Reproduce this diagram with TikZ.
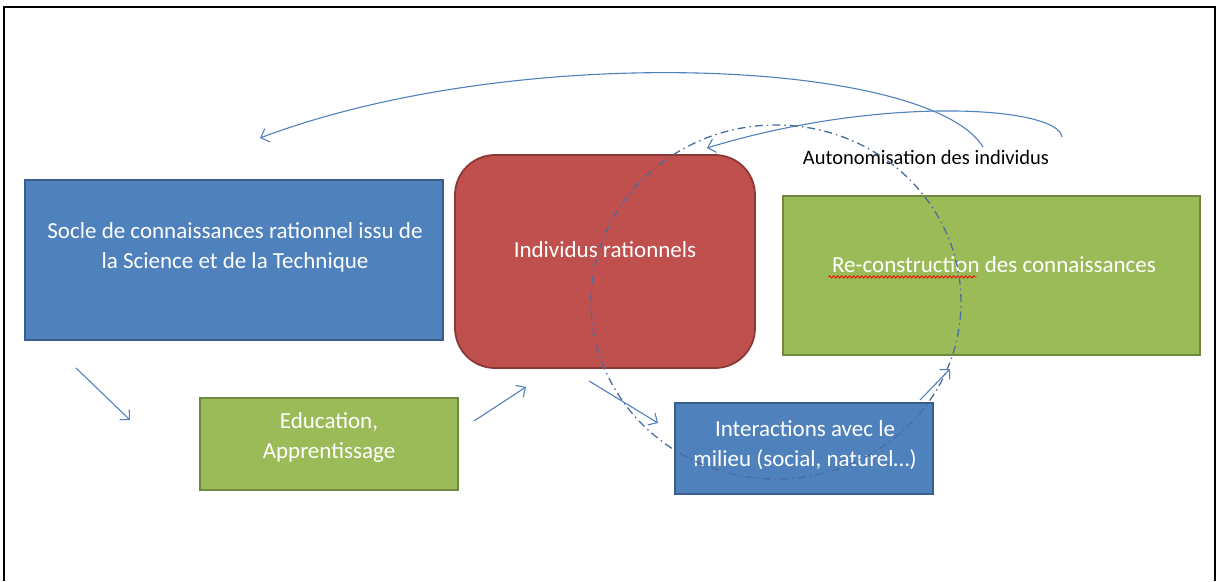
\documentclass[tikz,border=0pt]{standalone}
\usepackage{fontspec}
\setmainfont{Carlito}
\usetikzlibrary{positioning, arrows.meta, decorations.pathmorphing}
\definecolor{ofblue}{HTML}{4F81BD}
\definecolor{ofblueline}{HTML}{385D8A}
\definecolor{ofred}{HTML}{C0504D}
\definecolor{ofredline}{HTML}{8C3836}
\definecolor{ofgreen}{HTML}{9BBB59}
\definecolor{ofgreenline}{HTML}{71893F}
\definecolor{cycleblue}{HTML}{4B6C9E}

\begin{document}
\begin{tikzpicture}[x=1pt, y=-1pt,
    box/.style={draw, line width=1.8pt, inner sep=0pt},
    boxtext/.style={text=white, align=center, font=\fontsize{23}{30}\selectfont},
    link/.style={draw=ofblue, line width=1.1pt, -{Straight Barb[length=7pt, width=14pt]}},
    cycleline/.style={draw=cycleblue, line width=1.3pt, dash pattern=on 8pt off 4pt on 1.5pt off 4pt}]
    \useasboundingbox (0,0) rectangle (1218,581);
    \draw[line width=1.8pt] (4,581) -- (4,7) -- (1215,7) -- (1215,581);
    \node[box, fill=ofblue, draw=ofblueline, minimum width=418pt, minimum height=160pt] (socle) at (234,260) {};
    \node[box, fill=ofred, draw=ofredline, rounded corners=40pt, minimum width=300pt, minimum height=213pt] (indiv) at (605,261.5) {};
    \node[box, fill=ofgreen, draw=ofgreenline, minimum width=417pt, minimum height=159pt] (recons) at (991.5,275.5) {};
    \node[box, fill=ofgreen, draw=ofgreenline, minimum width=258pt, minimum height=92pt] (educ) at (329,444) {};
    \node[box, fill=ofblue, draw=ofblueline, minimum width=258pt, minimum height=91pt] (inter) at (804,448.5) {};
    \node[boxtext] (socletxt) at (235,247.5) {Socle de connaissances rationnel issu de\\la Science et de la Technique};
    \node[boxtext] (indivtxt) at (605,250) {Individus rationnels};
    \node[boxtext] (reconstxt) at (994,265) {Re-construction des connaissances};
    \node[boxtext] (eductxt) at (329,437) {Education,\\Apprentissage};
    \node[boxtext] (intertxt) at (805,445.5) {Interactions avec le\\milieu (social, naturel…)};
    \node[font=\fontsize{20.5}{24}\selectfont] (auto) at (926,157) {Autonomisation des individus};
    \draw[red, line width=0.8pt, decorate, decoration={snake, amplitude=1.2pt, segment length=4pt}] (reconstxt.base west) ++(0,4) -- ++(148,0);
    \coordinate (a1s) at (76,368);
    \coordinate (a1e) at (130,420);
    \coordinate (a2s) at (474,421);
    \coordinate (a2e) at (526,387);
    \coordinate (a3s) at (589,381);
    \coordinate (a3e) at (658,423);
    \coordinate (a4s) at (920,400);
    \coordinate (a4e) at (950,369);
    \draw[link] (a1s) -- (a1e);
    \draw[link] (a2s) -- (a2e);
    \draw[link] (a3s) -- (a3e);
    \draw[link] (a4s) -- (a4e);
    \coordinate (c1s) at (983,147);
    \coordinate (c1e) at (260,138);
    \coordinate (c2s) at (1062,137);
    \coordinate (c2e) at (707,148);
    \draw[link] (c1s) .. controls (930,60) and (520,40) .. (c1e);
    \draw[link] (c2s) .. controls (1058,106) and (880,95) .. (c2e);
    \draw[cycleline] (776,302) ellipse [x radius=185pt, y radius=177pt];
\end{tikzpicture}
\end{document}
